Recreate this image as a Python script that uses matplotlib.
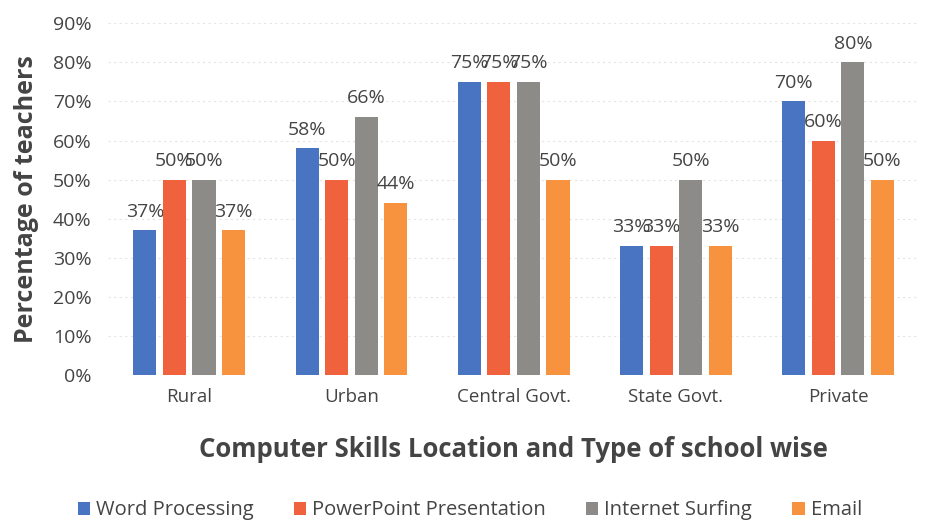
import matplotlib.pyplot as plt
import numpy as np

plt.rcParams['font.family'] = ['Open Sans', 'DejaVu Sans']

categories = ['Rural', 'Urban', 'Central Govt.', 'State Govt.', 'Private']
series = ['Word Processing', 'PowerPoint Presentation', 'Internet Surfing', 'Email']
word = [37, 58, 75, 33, 70]
powerpoint = [50, 50, 75, 33, 60]
internet = [50, 66, 75, 50, 80]
email = [37, 44, 50, 33, 50]
colors = ['#4874c2', '#f0623e', '#8c8b87', '#f7923e']
text_color = '#444444'

values = [word, powerpoint, internet, email]

fig = plt.figure(figsize=(9.4, 5.27), dpi=100)
ax = fig.add_axes([0.115, 0.288, 0.863, 0.668])

x = np.arange(len(categories))
step = 0.182
width = 0.142
for i, (name, vals, c) in enumerate(zip(series, values, colors)):
    pos = x + (i - 1.5) * step
    ax.bar(pos, vals, width, color=c, label=name, zorder=3)
    for px, v in zip(pos, vals):
        ax.annotate(f'{v}%', (px, v), xytext=(0, 7), textcoords='offset points',
                    ha='center', va='bottom', fontsize=14, color=text_color)

ax.set_xlim(-0.5, 4.5)
ax.set_ylim(0, 90)
ax.set_yticks(range(0, 91, 10))
ax.set_yticklabels([f'{t}%' for t in range(0, 91, 10)], fontsize=14, color=text_color)
ax.set_xticks(x)
ax.set_xticklabels(categories, fontsize=13.5, color=text_color)
ax.tick_params(length=0, pad=9)
ax.tick_params(axis='y', pad=12)
ax.grid(axis='y', color='#e4e4e4', linestyle=(0, (2, 3)), linewidth=0.8, zorder=0)
for s in ax.spines.values():
    s.set_visible(False)

ax.set_xlabel('Computer Skills Location and Type of school wise', fontsize=18.5,
              fontweight='bold', color=text_color, labelpad=22)
ax.set_ylabel('Percentage of teachers', fontsize=18, fontweight='bold',
              color=text_color, labelpad=10)

fig.legend(loc='lower center', bbox_to_anchor=(0.5, -0.022), ncol=4, frameon=False,
           fontsize=14.5, handlelength=0.6, handleheight=0.6, handletextpad=0.3,
           columnspacing=2.0, labelcolor=text_color)

fig.savefig('out.png', dpi=100, facecolor='white')
